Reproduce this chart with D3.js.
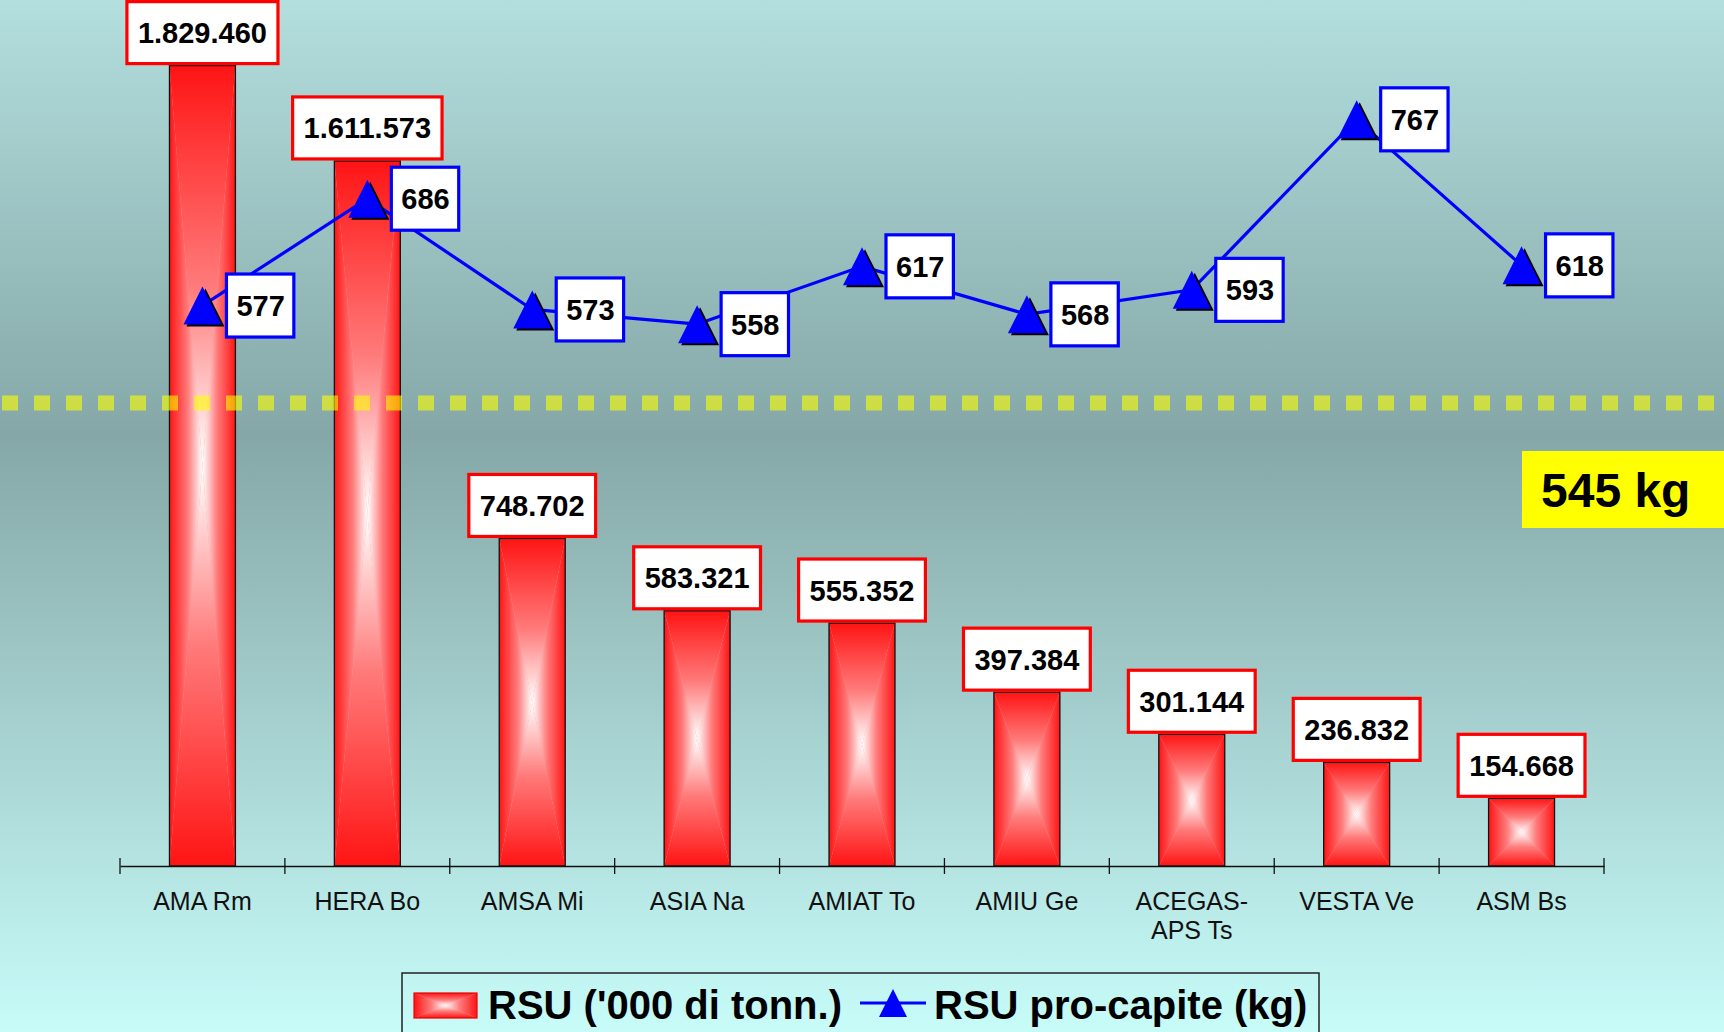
<!DOCTYPE html>
<html lang="it">
<head>
<meta charset="UTF-8" />
<title>RSU</title>
<script src="https://cdn.jsdelivr.net/npm/d3@7"></script>
<style>
  body { margin: 0; }
  svg { display: block; font-family: "Liberation Sans", Arial, sans-serif; }
</style>
</head>
<body>
<script>
// dati
var categories = ["AMA Rm", "HERA Bo", "AMSA Mi", "ASIA Na", "AMIAT To", "AMIU Ge", "ACEGAS-\nAPS Ts", "VESTA Ve", "ASM Bs"];
var rsu = [1829460, 1611573, 748702, 583321, 555352, 397384, 301144, 236832, 154668];
var proCapite = [577, 686, 573, 558, 617, 568, 593, 767, 618];
var mediaLabel = "545 kg";
var legendLabels = ["RSU ('000 di tonn.)", "RSU pro-capite (kg)"];

var w = 1724, h = 1032;

var it = d3.formatLocale({decimal: ",", thousands: ".", grouping: [3], currency: ["€", ""]});
var fmt = it.format(",d");

var svg = d3.select("body").append("svg")
    .attr("width", w)
    .attr("height", h);

var defs = svg.append("defs");

// sfondo
var bg = defs.append("linearGradient").attr("id", "bg")
    .attr("x1", 0).attr("y1", 0).attr("x2", 0).attr("y2", 1);
bg.append("stop").attr("offset", 0).attr("stop-color", "#b3dfde");
bg.append("stop").attr("offset", 0.42).attr("stop-color", "#85a7a7");
bg.append("stop").attr("offset", 1).attr("stop-color", "#c7fcf9");
svg.append("rect").attr("width", w).attr("height", h).attr("fill", "url(#bg)");

// gradienti "dal centro" per le barre: 4 triangoli
var dirs = {
    top:    [0, 0, 0, 1],
    bottom: [0, 1, 0, 0],
    left:   [0, 0, 1, 0],
    right:  [1, 0, 0, 0]
};
Object.keys(dirs).forEach(function(k) {
    var g = defs.append("linearGradient").attr("id", "g-" + k)
        .attr("x1", dirs[k][0]).attr("y1", dirs[k][1])
        .attr("x2", dirs[k][2]).attr("y2", dirs[k][3]);
    g.append("stop").attr("offset", 0).attr("stop-color", "#ff1414");
    g.append("stop").attr("offset", 0.55).attr("stop-color", "#ff7a7a");
    g.append("stop").attr("offset", 1).attr("stop-color", "#ffffff");
});

function gradRect(sel, x0, y0, bw, bh) {
    var cx = x0 + bw / 2, cy = y0 + bh / 2;
    sel.append("rect").attr("x", x0).attr("y", y0).attr("width", bw).attr("height", bh)
        .attr("fill", "#ff9a9a");
    var tris = [
        ["top",    [[x0, y0], [x0 + bw, y0], [cx, cy]]],
        ["bottom", [[x0, y0 + bh], [x0 + bw, y0 + bh], [cx, cy]]],
        ["left",   [[x0, y0], [x0, y0 + bh], [cx, cy]]],
        ["right",  [[x0 + bw, y0], [x0 + bw, y0 + bh], [cx, cy]]]
    ];
    tris.forEach(function(t) {
        sel.append("polygon")
            .attr("points", t[1].map(function(p) { return p.join(","); }).join(" "))
            .attr("fill", "url(#g-" + t[0] + ")");
    });
}

var x = d3.scaleBand().domain(categories).range([120, 1604]).padding(0);
var y = d3.scaleLinear().domain([0, 2000000]).range([866, -9]);
var y2 = d3.scaleLinear().domain([0, 900]).range([871, -11]);
var barW = x.bandwidth() * 0.4;

// barre
var bars = svg.append("g").attr("class", "bars");
categories.forEach(function(c, i) {
    var bx = x(c) + (x.bandwidth() - barW) / 2;
    var by = y(rsu[i]);
    var g = bars.append("g");
    gradRect(g, bx, by, barW, y(0) - by);
    g.append("rect").attr("x", bx).attr("y", by).attr("width", barW).attr("height", y(0) - by)
        .attr("fill", "none").attr("stroke", "#111").attr("stroke-width", 1.3);
});

// linea tratteggiata gialla
svg.append("line")
    .attr("x1", 2).attr("x2", w)
    .attr("y1", 403).attr("y2", 403)
    .attr("stroke", "rgba(255,255,0,0.6)")
    .attr("stroke-width", 15)
    .attr("stroke-dasharray", "16 16");

// etichette barre
var barLab = svg.append("g");
categories.forEach(function(c, i) {
    var cx = x(c) + x.bandwidth() / 2;
    var top = y(rsu[i]) - 2;
    var g = barLab.append("g");
    var r = g.append("rect");
    var t = g.append("text")
        .attr("x", cx).attr("y", top - 31 + 10.5)
        .attr("text-anchor", "middle")
        .attr("font-size", 29).attr("font-weight", "bold").attr("fill", "#000")
        .text(fmt(rsu[i]));
    var tw = t.node().getComputedTextLength();
    r.attr("x", cx - tw / 2 - 11).attr("y", top - 62)
        .attr("width", tw + 22).attr("height", 62)
        .attr("fill", "#fff").attr("stroke", "#ff0000").attr("stroke-width", 3.2);
});

// asse
var axis = svg.append("g")
    .attr("transform", "translate(0," + y(0) + ")")
    .call(d3.axisBottom(x).tickSize(0).tickSizeOuter(0));
axis.select(".domain").attr("stroke", "#111").attr("stroke-width", 1.5);
axis.selectAll(".tick text").each(function(d) {
    var t = d3.select(this).text(null)
        .attr("y", 44).attr("dy", null)
        .attr("font-size", 25).attr("font-family", "Liberation Sans, Arial, sans-serif")
        .attr("fill", "#111");
    d.split("\n").forEach(function(s, k) {
        t.append("tspan").attr("x", 0).attr("dy", k ? 29.3 : 0).text(s);
    });
});
d3.range(categories.length + 1).forEach(function(k) {
    var xb = x.range()[0] + k * x.bandwidth();
    axis.append("line").attr("x1", xb).attr("x2", xb).attr("y1", -8).attr("y2", 8)
        .attr("stroke", "#111").attr("stroke-width", 1.3);
});

// linea pro-capite
var pts = categories.map(function(c, i) { return [x(c) + x.bandwidth() / 2, y2(proCapite[i])]; });
svg.append("path")
    .attr("d", d3.line()(pts))
    .attr("fill", "none").attr("stroke", "#0000ff").attr("stroke-width", 3.2);

function tri(cx, cy, s) {
    return [[cx, cy - s], [cx + s, cy + s], [cx - s, cy + s]].map(function(p) { return p.join(","); }).join(" ");
}
var mk = svg.append("g");
pts.forEach(function(p) {
    mk.append("polygon").attr("points", tri(p[0] + 3, p[1] + 2, 19)).attr("fill", "#000");
    mk.append("polygon").attr("points", tri(p[0], p[1], 19)).attr("fill", "#0000ff");
});

var lineLab = svg.append("g");
pts.forEach(function(p, i) {
    var g = lineLab.append("g");
    var r = g.append("rect");
    var lx = p[0] + 24;
    var t = g.append("text")
        .attr("x", lx + 10).attr("y", p[1] + 10.5)
        .attr("font-size", 29).attr("font-weight", "bold").attr("fill", "#000")
        .text(proCapite[i]);
    var tw = t.node().getComputedTextLength();
    r.attr("x", lx).attr("y", p[1] - 31.5)
        .attr("width", tw + 19).attr("height", 63)
        .attr("fill", "#fff").attr("stroke", "#0000ff").attr("stroke-width", 3.2);
});

// media 545 kg
svg.append("rect").attr("x", 1522).attr("y", 451).attr("width", 210).attr("height", 77)
    .attr("fill", "#ffff00");
svg.append("text").attr("x", 1541).attr("y", 507)
    .attr("font-size", 48).attr("font-weight", "bold").attr("fill", "#000")
    .text(mediaLabel);

// legenda
var leg = svg.append("g");
leg.append("rect").attr("x", 402).attr("y", 973).attr("width", 917).attr("height", 80)
    .attr("fill", "none").attr("stroke", "#222").attr("stroke-width", 1.5);
gradRect(leg.append("g"), 414, 993, 63, 25);
leg.append("rect").attr("x", 414).attr("y", 993).attr("width", 63).attr("height", 25)
    .attr("fill", "none").attr("stroke", "#e00").attr("stroke-width", 1.2);
leg.append("text").attr("x", 488).attr("y", 1019)
    .attr("font-size", 40).attr("font-weight", "bold").attr("fill", "#000")
    .text(legendLabels[0]);
leg.append("line").attr("x1", 860).attr("x2", 926).attr("y1", 1003).attr("y2", 1003)
    .attr("stroke", "#0000ff").attr("stroke-width", 3.2);
leg.append("polygon").attr("points", tri(893, 1003, 14)).attr("fill", "#0000ff");
leg.append("text").attr("x", 934).attr("y", 1019)
    .attr("font-size", 40).attr("font-weight", "bold").attr("fill", "#000")
    .text(legendLabels[1]);
</script>
</body>
</html>
